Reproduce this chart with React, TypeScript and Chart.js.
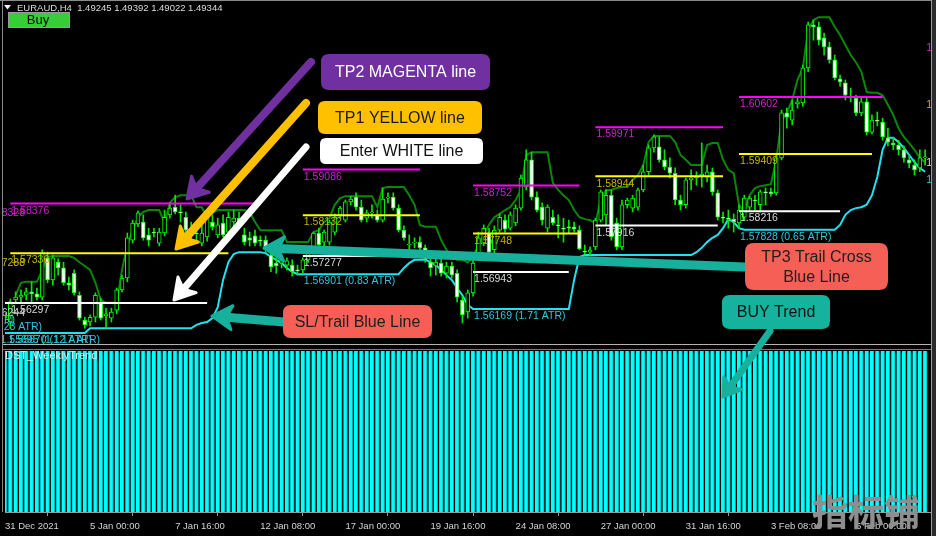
import React, { useEffect, useRef } from "react";
import { Chart, registerables } from "chart.js";

Chart.register(...registerables);

// ---------------- data ----------------
const xTickLabels = ["31 Dec 2021", "5 Jan 00:00", "7 Jan 16:00", "12 Jan 08:00", "17 Jan 00:00", "19 Jan 16:00", "24 Jan 08:00", "27 Jan 00:00", "31 Jan 16:00", "3 Feb 08:00", "6 Feb 00:00"];
const barsPerTick = 16;

const opens = [
  1.5598, 1.5590, 1.5636, 1.5642, 1.5646, 1.5653, 1.5649, 1.5642, 1.5724, 1.5678,
  1.5715, 1.5703, 1.5672, 1.5692, 1.5646, 1.5594, 1.5590, 1.5600, 1.5630, 1.5603,
  1.5598, 1.5615, 1.5657, 1.5682, 1.5761, 1.5795, 1.5799, 1.5772, 1.5778, 1.5755,
  1.5776, 1.5814, 1.5830, 1.5820, 1.5809, 1.5780, 1.5776, 1.5755, 1.5768, 1.5799,
  1.5772, 1.5797, 1.5778, 1.5799, 1.5807, 1.5772, 1.5766, 1.5770, 1.5761, 1.5761,
  1.5730, 1.5713, 1.5713, 1.5709, 1.5709, 1.5699, 1.5699, 1.5720, 1.5741, 1.5776,
  1.5757, 1.5757, 1.5778, 1.5814, 1.5803, 1.5841, 1.5851, 1.5830, 1.5807, 1.5818,
  1.5814, 1.5803, 1.5849, 1.5851, 1.5828, 1.5782, 1.5751, 1.5755, 1.5757, 1.5745,
  1.5715, 1.5707, 1.5713, 1.5692, 1.5707, 1.5692, 1.5636, 1.5611, 1.5651, 1.5734,
  1.5755, 1.5776, 1.5741, 1.5782, 1.5803, 1.5786, 1.5797, 1.5828, 1.5872, 1.5929,
  1.5851, 1.5830, 1.5786, 1.5809, 1.5793, 1.5786, 1.5789, 1.5789, 1.5782, 1.5738,
  1.5736, 1.5747, 1.5803, 1.5814, 1.5855, 1.5797, 1.5747, 1.5835, 1.5828, 1.5830,
  1.5866, 1.5904, 1.5954, 1.5956, 1.5929, 1.5914, 1.5901, 1.5845, 1.5835, 1.5887,
  1.5891, 1.5895, 1.5893, 1.5904, 1.5860, 1.5809, 1.5807, 1.5805, 1.5797, 1.5809,
  1.5830, 1.5845, 1.5835, 1.5862, 1.5862, 1.5860, 1.5933, 1.6027, 1.6012, 1.6046,
  1.6048, 1.6121, 1.6211, 1.6207, 1.6184, 1.6165, 1.6138, 1.6098, 1.6090, 1.6062,
  1.6058, 1.6027, 1.6050, 1.5987, 1.6012, 1.6008, 1.5975, 1.5964, 1.5960, 1.5950,
  1.5929, 1.5918, 1.5912, 1.5933,
];
const highs = [
  1.5609, 1.5638, 1.5653, 1.5657, 1.5661, 1.5674, 1.5661, 1.5741, 1.5736, 1.5730,
  1.5722, 1.5715, 1.5684, 1.5699, 1.5653, 1.5600, 1.5605, 1.5651, 1.5640, 1.5619,
  1.5619, 1.5661, 1.5688, 1.5776, 1.5803, 1.5822, 1.5814, 1.5786, 1.5786, 1.5786,
  1.5824, 1.5839, 1.5855, 1.5835, 1.5820, 1.5799, 1.5786, 1.5793, 1.5824, 1.5814,
  1.5807, 1.5814, 1.5820, 1.5824, 1.5820, 1.5786, 1.5778, 1.5782, 1.5770, 1.5770,
  1.5741, 1.5724, 1.5724, 1.5724, 1.5720, 1.5709, 1.5724, 1.5745, 1.5778, 1.5786,
  1.5782, 1.5803, 1.5816, 1.5832, 1.5845, 1.5853, 1.5860, 1.5845, 1.5824, 1.5835,
  1.5824, 1.5870, 1.5860, 1.5860, 1.5835, 1.5791, 1.5772, 1.5766, 1.5768, 1.5751,
  1.5724, 1.5724, 1.5724, 1.5715, 1.5715, 1.5699, 1.5644, 1.5657, 1.5724, 1.5778,
  1.5793, 1.5786, 1.5791, 1.5816, 1.5814, 1.5820, 1.5835, 1.5897, 1.5950, 1.5945,
  1.5862, 1.5839, 1.5835, 1.5824, 1.5814, 1.5807, 1.5803, 1.5799, 1.5791, 1.5751,
  1.5747, 1.5807, 1.5866, 1.5866, 1.5866, 1.5807, 1.5845, 1.5849, 1.5855, 1.5870,
  1.5918, 1.5960, 1.5981, 1.5977, 1.5950, 1.5933, 1.5912, 1.5855, 1.5891, 1.5908,
  1.5904, 1.5964, 1.5918, 1.5912, 1.5866, 1.5820, 1.5824, 1.5816, 1.5835, 1.5855,
  1.5853, 1.5855, 1.5866, 1.5870, 1.5870, 1.5939, 1.6033, 1.6037, 1.6054, 1.6058,
  1.6127, 1.6217, 1.6221, 1.6217, 1.6194, 1.6175, 1.6148, 1.6106, 1.6096, 1.6079,
  1.6064, 1.6060, 1.6058, 1.6023, 1.6029, 1.6016, 1.5995, 1.5975, 1.5970, 1.5958,
  1.5939, 1.5929, 1.5950, 1.5950,
];
const lows = [
  1.5590, 1.5577, 1.5628, 1.5632, 1.5636, 1.5628, 1.5636, 1.5636, 1.5672, 1.5667,
  1.5688, 1.5667, 1.5657, 1.5646, 1.5594, 1.5577, 1.5582, 1.5590, 1.5594, 1.5577,
  1.5590, 1.5607, 1.5653, 1.5674, 1.5755, 1.5789, 1.5761, 1.5749, 1.5768, 1.5749,
  1.5770, 1.5807, 1.5816, 1.5799, 1.5778, 1.5761, 1.5761, 1.5749, 1.5759, 1.5782,
  1.5766, 1.5768, 1.5770, 1.5786, 1.5786, 1.5751, 1.5749, 1.5749, 1.5749, 1.5736,
  1.5695, 1.5692, 1.5703, 1.5699, 1.5686, 1.5688, 1.5692, 1.5715, 1.5732, 1.5745,
  1.5749, 1.5751, 1.5772, 1.5807, 1.5799, 1.5835, 1.5824, 1.5799, 1.5799, 1.5807,
  1.5799, 1.5799, 1.5839, 1.5824, 1.5778, 1.5761, 1.5741, 1.5745, 1.5741, 1.5715,
  1.5686, 1.5688, 1.5686, 1.5682, 1.5682, 1.5632, 1.5588, 1.5598, 1.5644, 1.5728,
  1.5749, 1.5732, 1.5734, 1.5778, 1.5778, 1.5782, 1.5791, 1.5824, 1.5866, 1.5845,
  1.5820, 1.5793, 1.5778, 1.5793, 1.5766, 1.5757, 1.5776, 1.5778, 1.5741, 1.5732,
  1.5730, 1.5741, 1.5799, 1.5793, 1.5761, 1.5741, 1.5741, 1.5828, 1.5820, 1.5824,
  1.5862, 1.5897, 1.5945, 1.5924, 1.5908, 1.5891, 1.5835, 1.5824, 1.5828, 1.5866,
  1.5876, 1.5872, 1.5883, 1.5855, 1.5803, 1.5797, 1.5786, 1.5778, 1.5786, 1.5803,
  1.5824, 1.5824, 1.5820, 1.5835, 1.5853, 1.5855, 1.5929, 1.5995, 1.6002, 1.6037,
  1.6041, 1.6113, 1.6179, 1.6169, 1.6148, 1.6131, 1.6096, 1.6083, 1.6054, 1.6050,
  1.6021, 1.6021, 1.5981, 1.5983, 1.6000, 1.5970, 1.5958, 1.5950, 1.5939, 1.5924,
  1.5912, 1.5897, 1.5904, 1.5918,
];
const closes = [
  1.5603, 1.5632, 1.5642, 1.5646, 1.5653, 1.5649, 1.5642, 1.5734, 1.5678, 1.5724,
  1.5703, 1.5672, 1.5667, 1.5651, 1.5598, 1.5584, 1.5600, 1.5646, 1.5598, 1.5607,
  1.5611, 1.5657, 1.5682, 1.5766, 1.5797, 1.5818, 1.5766, 1.5761, 1.5776, 1.5778,
  1.5809, 1.5828, 1.5820, 1.5818, 1.5782, 1.5772, 1.5774, 1.5776, 1.5809, 1.5789,
  1.5793, 1.5772, 1.5809, 1.5807, 1.5801, 1.5757, 1.5761, 1.5755, 1.5759, 1.5741,
  1.5705, 1.5707, 1.5720, 1.5718, 1.5695, 1.5697, 1.5720, 1.5741, 1.5776, 1.5751,
  1.5778, 1.5799, 1.5809, 1.5828, 1.5841, 1.5847, 1.5830, 1.5803, 1.5818, 1.5820,
  1.5803, 1.5847, 1.5851, 1.5828, 1.5782, 1.5766, 1.5753, 1.5757, 1.5745, 1.5720,
  1.5703, 1.5715, 1.5692, 1.5707, 1.5688, 1.5642, 1.5605, 1.5651, 1.5713, 1.5766,
  1.5786, 1.5736, 1.5782, 1.5809, 1.5784, 1.5814, 1.5828, 1.5891, 1.5929, 1.5851,
  1.5824, 1.5803, 1.5830, 1.5797, 1.5791, 1.5784, 1.5786, 1.5784, 1.5743, 1.5736,
  1.5741, 1.5803, 1.5862, 1.5855, 1.5768, 1.5747, 1.5835, 1.5845, 1.5849, 1.5866,
  1.5904, 1.5954, 1.5977, 1.5929, 1.5914, 1.5901, 1.5845, 1.5835, 1.5887, 1.5891,
  1.5895, 1.5899, 1.5904, 1.5862, 1.5809, 1.5807, 1.5805, 1.5799, 1.5824, 1.5849,
  1.5849, 1.5843, 1.5862, 1.5860, 1.5858, 1.5933, 1.6027, 1.6018, 1.6033, 1.6050,
  1.6121, 1.6211, 1.6207, 1.6179, 1.6165, 1.6138, 1.6100, 1.6092, 1.6064, 1.6060,
  1.6027, 1.6050, 1.5987, 1.6012, 1.6010, 1.5977, 1.5966, 1.5960, 1.5950, 1.5933,
  1.5922, 1.5908, 1.5933, 1.5935,
];
// upper (green) channel line
const upperBand = [
  null, null, 1.5646, 1.5672, 1.5674, 1.5674, 1.5674, 1.5699, 1.5726, 1.5728,
  1.5728, 1.5728, 1.5728, 1.5724, 1.5715, 1.5707, 1.5699, 1.5672, 1.5636, 1.5630,
  1.5630, 1.5630, 1.5699, 1.5751, 1.5782, 1.5809, 1.5820, 1.5824, 1.5824, 1.5824,
  1.5797, 1.5839, 1.5851, 1.5855, 1.5855, 1.5855, 1.5830, 1.5830, 1.5809, 1.5818,
  1.5824, 1.5824, 1.5824, 1.5824, 1.5824, 1.5824, 1.5820, 1.5799, 1.5782, 1.5782,
  1.5782, 1.5782, 1.5782, 1.5757, 1.5757, 1.5757, 1.5757, 1.5757, 1.5778, 1.5782,
  1.5799, 1.5807, 1.5835, 1.5849, 1.5853, 1.5853, 1.5853, 1.5853, 1.5853, 1.5853,
  1.5830, 1.5870, 1.5872, 1.5872, 1.5872, 1.5872, 1.5855, 1.5835, 1.5793, 1.5789,
  1.5789, 1.5789, 1.5761, 1.5741, 1.5726, 1.5720, 1.5720, 1.5715, 1.5726, 1.5751,
  1.5772, 1.5793, 1.5809, 1.5816, 1.5824, 1.5830, 1.5845, 1.5866, 1.5939, 1.5945,
  1.5945, 1.5945, 1.5945, 1.5881, 1.5866, 1.5855, 1.5845, 1.5824, 1.5809, 1.5805,
  1.5803, 1.5797, 1.5845, 1.5866, 1.5866, 1.5870, 1.5872, 1.5872, 1.5887, 1.5897,
  1.5918, 1.5966, 1.5979, 1.5979, 1.5979, 1.5979, 1.5966, 1.5939, 1.5929, 1.5918,
  1.5918, 1.5918, 1.5960, 1.5964, 1.5964, 1.5929, 1.5908, 1.5901, 1.5835, 1.5820,
  1.5855, 1.5870, 1.5874, 1.5876, 1.5878, 1.5929, 1.6012, 1.6027, 1.6054, 1.6096,
  1.6121, 1.6200, 1.6221, 1.6227, 1.6227, 1.6227, 1.6207, 1.6190, 1.6169, 1.6148,
  1.6133, 1.6113, 1.6071, 1.6069, 1.6069, 1.6064, 1.6044, 1.6023, 1.5995, 1.5977,
  1.5964, 1.5950, 1.5933, 1.5924,
];
// SL / trailing (cyan) line
const trailStop = [
  1.5567, 1.5567, 1.5567, 1.5567, 1.5567, 1.5567, 1.5567, 1.5567, 1.5567, 1.5567,
  1.5567, 1.5567, 1.5567, 1.5567, 1.5567, 1.5567, 1.5577, 1.5577, 1.5577, 1.5577,
  1.5577, 1.5577, 1.5577, 1.5577, 1.5577, 1.5577, 1.5577, 1.5577, 1.5577, 1.5577,
  1.5577, 1.5577, 1.5577, 1.5577, 1.5577, 1.5577, 1.5584, 1.5588, 1.5590, 1.5598,
  1.5621, 1.5678, 1.5715, 1.5732, 1.5736, 1.5736, 1.5736, 1.5736, 1.5736, 1.5734,
  1.5726, 1.5720, 1.5713, 1.5703, 1.5695, 1.5690, 1.5690, 1.5690, 1.5690, 1.5690,
  1.5690, 1.5690, 1.5690, 1.5690, 1.5690, 1.5690, 1.5690, 1.5690, 1.5690, 1.5690,
  1.5690, 1.5690, 1.5690, 1.5690, 1.5690, 1.5703, 1.5713, 1.5720, 1.5720, 1.5720,
  1.5715, 1.5709, 1.5699, 1.5688, 1.5678, 1.5661, 1.5646, 1.5626, 1.5617, 1.5617,
  1.5617, 1.5617, 1.5617, 1.5617, 1.5617, 1.5617, 1.5617, 1.5617, 1.5617, 1.5617,
  1.5617, 1.5617, 1.5617, 1.5617, 1.5617, 1.5617, 1.5617, 1.5678, 1.5726, 1.5730,
  1.5730, 1.5730, 1.5730, 1.5730, 1.5730, 1.5730, 1.5730, 1.5730, 1.5730, 1.5730,
  1.5730, 1.5730, 1.5730, 1.5730, 1.5730, 1.5730, 1.5730, 1.5730, 1.5730, 1.5730,
  1.5736, 1.5745, 1.5757, 1.5766, 1.5772, 1.5786, 1.5805, 1.5799, 1.5786, 1.5783,
  1.5783, 1.5783, 1.5783, 1.5783, 1.5783, 1.5783, 1.5783, 1.5783, 1.5783, 1.5783,
  1.5783, 1.5783, 1.5783, 1.5783, 1.5783, 1.5783, 1.5783, 1.5793, 1.5814, 1.5824,
  1.5828, 1.5830, 1.5835, 1.5855, 1.5893, 1.5950, 1.5975, 1.5975, 1.5966, 1.5954,
  1.5939, 1.5924, 1.5912, 1.5904,
];
// DST_WeeklyTrend histogram (1 = buy trend)
const weeklyTrend = [
  1, 1, 1, 1, 1, 1, 1, 1, 1, 1, 1, 1, 1, 1, 1, 1, 1, 1, 1, 1, 1, 1, 1, 1, 1, 1, 1, 1, 1,
  1, 1, 1, 1, 1, 1, 1, 1, 1, 1, 1, 1, 1, 1, 1, 1, 1, 1, 1, 1, 1, 1, 1, 1, 1, 1, 1, 1, 1,
  1, 1, 1, 1, 1, 1, 1, 1, 1, 1, 1, 1, 1, 1, 1, 1, 1, 1, 1, 1, 1, 1, 1, 1, 1, 1, 1, 1, 1,
  1, 1, 1, 1, 1, 1, 1, 1, 1, 1, 1, 1, 1, 1, 1, 1, 1, 1, 1, 1, 1, 1, 1, 1, 1, 1, 1, 1, 1,
  1, 1, 1, 1, 1, 1, 1, 1, 1, 1, 1, 1, 1, 1, 1, 1, 1, 1, 1, 1, 1, 1, 1, 1, 1, 1, 1, 1, 1,
  1, 1, 1, 1, 1, 1, 1, 1, 1, 1, 1, 1, 1, 1, 1, 1, 1, 1, 1, 1, 1, 1, 1, 1, 1, 1, 1, 1, 1,
];

// signal levels (one entry per signal)
const signalStartBar = [1, 56, 88, 111, 138];
const entryStartBar = [0, 56, 88, 111, 138];
const tp2Levels = [1.58376, 1.59086, 1.58752, 1.59971, 1.60602];
const tp2EndBar = [47, 78, 108, 135, 165];
const tp1Levels = [1.57336, 1.58132, 1.57748, 1.58944, 1.59409];
const tp1EndBar = [42, 78, 108, 135, 163];
const entryLevels = [1.56297, 1.57277, 1.56943, 1.57916, 1.58216];
const entryEndBar = [38, 78, 106, 134, 157];
const stopLabelLevels = [1.5567, 1.56901, 1.56169, 1.5730, 1.57828];
const stopLabelTexts = ["", "1.56901 (0.83 ATR)", "1.56169 (1.71 ATR)", "", "1.57828 (0.65 ATR)"];

// partially visible labels of earlier / later signals
const prevLevelTexts = ["1.58328", "1.57288", "1.56244"];
const prevLevelValues = [1.58328, 1.57288, 1.56244];
const prevStopTexts = ["1.56090 (1.18 ATR)", "1.55940 (1.23 ATR)", "1.55695 (1.12 ATR)", "1.55670 (1.17 ATR)"];
const prevStopValues = [1.5609, 1.5594, 1.5567, 1.5567];
const nextLevelTexts = ["1.61770", "1.60580", "1.59370", "1.59010"];
const nextLevelValues = [1.6177, 1.6058, 1.5937, 1.5901];

// ---------------- styling ----------------
const C_MAG = "#ff00ff";
const C_YEL = "#ffff00";
const C_WHT = "#ffffff";
const C_MAG_T = "#cc22cc";
const C_YEL_T = "#c8b400";
const C_WHT_T = "#d8d8d8";
const C_CYN_T = "#2ec8dc";
const LBL_FONT = '10.5px "Liberation Sans", Arial, sans-serif';

function rr(ctx: CanvasRenderingContext2D, x: number, y: number, w: number, h: number, r: number) {
  ctx.beginPath();
  ctx.moveTo(x + r, y);
  ctx.lineTo(x + w - r, y);
  ctx.quadraticCurveTo(x + w, y, x + w, y + r);
  ctx.lineTo(x + w, y + h - r);
  ctx.quadraticCurveTo(x + w, y + h, x + w - r, y + h);
  ctx.lineTo(x + r, y + h);
  ctx.quadraticCurveTo(x, y + h, x, y + h - r);
  ctx.lineTo(x, y + r);
  ctx.quadraticCurveTo(x, y, x + r, y);
  ctx.closePath();
}

function arrow(ctx: CanvasRenderingContext2D, x1: number, y1: number, x2: number, y2: number, color: string, w: number, hl: number, hw: number) {
  const a = Math.atan2(y2 - y1, x2 - x1);
  const c = Math.cos(a), s = Math.sin(a);
  const bx = x2 - hl * c, by = y2 - hl * s;
  const nx = x2 - hl * 0.72 * c, ny = y2 - hl * 0.72 * s;
  ctx.strokeStyle = color;
  ctx.fillStyle = color;
  ctx.lineCap = "round";
  ctx.lineJoin = "round";
  ctx.lineWidth = w;
  ctx.beginPath();
  ctx.moveTo(x1, y1);
  ctx.lineTo(nx, ny);
  ctx.stroke();
  ctx.lineWidth = 3;
  ctx.beginPath();
  ctx.moveTo(x2, y2);
  ctx.lineTo(bx - hw * s, by + hw * c);
  ctx.lineTo(nx, ny);
  ctx.lineTo(bx + hw * s, by - hw * c);
  ctx.closePath();
  ctx.fill();
  ctx.stroke();
}

function box(ctx: CanvasRenderingContext2D, x: number, y: number, w: number, h: number, r: number, fill: string, lines: string[], color: string) {
  ctx.fillStyle = fill;
  rr(ctx, x, y, w, h, r);
  ctx.fill();
  ctx.fillStyle = color;
  ctx.font = '16px "Liberation Sans", Arial, sans-serif';
  ctx.textAlign = "center";
  ctx.textBaseline = "middle";
  const lh = 20;
  const cy = y + h / 2 - ((lines.length - 1) * lh) / 2 + 1;
  lines.forEach((t, k) => ctx.fillText(t, x + w / 2, cy + k * lh));
}

const overlayPlugin = {
  id: "overlay",
  beforeDraw(chart: any) {
    const ctx = chart.ctx as CanvasRenderingContext2D;
    ctx.save();
    ctx.fillStyle = "#000";
    ctx.fillRect(0, 0, chart.width, chart.height);
    ctx.restore();
  },
  afterDraw(chart: any) {
    const ctx = chart.ctx as CanvasRenderingContext2D;
    const xs = chart.scales.x;
    const ys = chart.scales.y;
    const px = (v: number) => xs.getPixelForValue(v);
    const py = (v: number) => ys.getPixelForValue(v);

    // ---- level labels (main pane) ----
    ctx.save();
    ctx.beginPath();
    ctx.rect(2, 0, 929, 344);
    ctx.clip();
    ctx.font = LBL_FONT;
    ctx.textBaseline = "top";
    ctx.textAlign = "left";
    const lbl = (t: string, x: number, v: number, col: string) => {
      ctx.fillStyle = col;
      ctx.fillText(t, x, py(v) + 2);
    };
    tp2Levels.forEach((v, k) => lbl(v.toFixed(5), px(signalStartBar[k]) + 1, v, C_MAG_T));
    tp1Levels.forEach((v, k) => lbl(v.toFixed(5), px(signalStartBar[k]) + 1, v, C_YEL_T));
    entryLevels.forEach((v, k) => lbl(v.toFixed(5), px(signalStartBar[k]) + 1, v, C_WHT_T));
    stopLabelLevels.forEach((v, k) => {
      if (stopLabelTexts[k]) lbl(stopLabelTexts[k], px(signalStartBar[k]) + 1, v, C_CYN_T);
    });
    ctx.textAlign = "right";
    const prevCols = [C_MAG_T, C_YEL_T, C_WHT_T];
    prevLevelValues.forEach((v, k) => lbl(prevLevelTexts[k], 25, v, prevCols[k]));
    const prevStopRight = [15, 42, 92, 100];
    prevStopValues.forEach((v, k) => lbl(prevStopTexts[k], prevStopRight[k], v, C_CYN_T));
    ctx.textAlign = "left";
    const nextCols = [C_MAG_T, C_YEL_T, C_WHT_T, C_CYN_T];
    nextLevelValues.forEach((v, k) => lbl(nextLevelTexts[k], px(173) + 1, v, nextCols[k]));
    ctx.restore();

    ctx.save();
    // ---- pane separator ----
    ctx.fillStyle = "#000";
    ctx.fillRect(2, 344, 929, 6);
    ctx.fillStyle = "#b4b4b4";
    ctx.fillRect(2, 344, 929, 1);
    ctx.fillStyle = "#7a7a7a";
    ctx.fillRect(2, 349, 929, 1);
    // frame
    ctx.fillStyle = "#8a8a8a";
    ctx.fillRect(0, 0, 936, 1);
    ctx.fillRect(2, 0, 1, 512);
    ctx.fillStyle = "#9a9a9a";
    ctx.fillRect(931, 0, 1, 536);
    ctx.fillStyle = "#2c2c2c";
    ctx.fillRect(932, 0, 4, 536);

    // indicator name
    ctx.font = '11px "Liberation Sans", Arial, sans-serif';
    ctx.textAlign = "left";
    ctx.textBaseline = "middle";
    ctx.fillStyle = "#e6e6e6";
    ctx.fillText("DST_WeeklyTrend", 5, 356);

    // title
    ctx.fillStyle = "#f0f0f0";
    ctx.beginPath();
    ctx.moveTo(4, 5);
    ctx.lineTo(11, 5);
    ctx.lineTo(7.5, 9.5);
    ctx.closePath();
    ctx.fill();
    ctx.font = '9.5px "Liberation Sans", Arial, sans-serif';
    ctx.fillStyle = "#dcdcdc";
    ctx.fillText("EURAUD,H4  1.49245 1.49392 1.49022 1.49344", 17, 8);

    // Buy button
    ctx.fillStyle = "#38cc38";
    ctx.fillRect(9, 13, 60, 14);
    ctx.strokeStyle = "#9a9a9a";
    ctx.lineWidth = 1;
    ctx.strokeRect(8.5, 12.5, 61, 15);
    ctx.fillStyle = "#000";
    ctx.font = '13px "Liberation Sans", Arial, sans-serif';
    ctx.textAlign = "center";
    ctx.fillText("Buy", 38, 20.5);

    // ---- annotation arrows ----
    const TEAL = "#17b09c";
    arrow(ctx, 311, 62, 187, 199, "#7030a0", 8, 20, 12);
    arrow(ctx, 306, 103, 176, 249, "#ffc000", 8, 20, 12);
    arrow(ctx, 306, 147, 174, 300, "#ffffff", 7, 20, 12);
    arrow(ctx, 284, 322, 212, 316, TEAL, 9, 20, 12);
    arrow(ctx, 744, 267, 264, 248, TEAL, 9, 20, 12);
    arrow(ctx, 770, 331, 723, 397, TEAL, 7, 17, 11);

    // ---- annotation boxes ----
    box(ctx, 321, 54, 169, 36, 8, "#7030a0", ["TP2 MAGENTA line"], "#ffffff");
    box(ctx, 318, 101, 164, 33, 7, "#ffc000", ["TP1 YELLOW line"], "#1a1a1a");
    box(ctx, 320, 138, 163, 26, 6, "#ffffff", ["Enter WHITE line"], "#111111");
    box(ctx, 283, 305, 149, 33, 8, "#f65f56", ["SL/Trail Blue Line"], "#1e1e1e");
    box(ctx, 745, 243, 143, 47, 9, "#f65f56", ["TP3 Trail Cross", "Blue Line"], "#1e1e1e");
    box(ctx, 722, 295, 108, 34, 8, "#15b39e", ["BUY Trend"], "#111111");

    // watermark
    ctx.font = 'bold 36px "Noto Sans CJK SC", sans-serif';
    ctx.textAlign = "center";
    ctx.textBaseline = "middle";
    ctx.fillStyle = "#8e8e8e";
    ctx.fillText("指标铺", 866, 512);
    ctx.restore();
  },
};

export default function App() {
  const ref = useRef<HTMLCanvasElement>(null);
  useEffect(() => {
    document.body.style.margin = "0";
    document.body.style.background = "#000";
    const canvas = ref.current;
    if (!canvas) return;
    const idx = opens.map((_, i) => i);
    const wickData = idx.map((i) => ({ x: i, y: [lows[i], highs[i]] }));
    const bodyData = idx.map((i) => ({ x: i, y: [opens[i], closes[i]] }));
    const bodyFill = idx.map((i) => (closes[i] >= opens[i] ? "#000000" : "#ffffff"));

    const seg = (levels: number[], starts: number[], ends: number[], color: string) =>
      levels.map((v, k) => ({
        type: "line" as const,
        data: [{ x: starts[k], y: v }, { x: ends[k], y: v }],
        borderColor: color,
        borderWidth: 2,
        pointRadius: 0,
        yAxisID: "y",
        order: 0,
      }));

    const chart = new Chart(canvas, {
      type: "bar",
      data: {
        datasets: [
          {
            type: "bar",
            data: idx.map((i) => ({ x: i, y: weeklyTrend[i] })),
            yAxisID: "y2",
            backgroundColor: "#00ffff",
            borderColor: "#00a8b0",
            borderWidth: { left: 0, right: 1, top: 0, bottom: 0 },
            barThickness: 4,
            grouped: false,
            order: 6,
          } as any,
          {
            type: "line",
            data: idx.map((i) => ({ x: i, y: upperBand[i] })),
            borderColor: "#0b860b",
            borderWidth: 2,
            pointRadius: 0,
            tension: 0,
            spanGaps: false,
            yAxisID: "y",
            order: 5,
          } as any,
          {
            type: "line",
            data: idx.map((i) => ({ x: i, y: trailStop[i] })),
            borderColor: "#22e2f0",
            borderWidth: 2,
            pointRadius: 0,
            tension: 0,
            yAxisID: "y",
            order: 4,
          } as any,
          {
            type: "bar",
            data: wickData,
            yAxisID: "y",
            backgroundColor: "#00e600",
            barThickness: 1,
            grouped: false,
            order: 3,
          } as any,
          {
            type: "bar",
            data: bodyData,
            yAxisID: "y",
            backgroundColor: bodyFill,
            borderColor: "#00ff00",
            borderWidth: 1,
            borderSkipped: false,
            barThickness: 4,
            minBarLength: 1,
            grouped: false,
            order: 2,
          } as any,
          ...seg(tp2Levels, signalStartBar, tp2EndBar, C_MAG),
          ...seg(tp1Levels, signalStartBar, tp1EndBar, C_YEL),
          ...seg(entryLevels, entryStartBar, entryEndBar, C_WHT),
        ] as any,
      },
      options: {
        responsive: false,
        animation: false,
        devicePixelRatio: 1,
        events: [],
        layout: { padding: { left: 2, right: 5, top: 0, bottom: 0 } },
        plugins: { legend: { display: false }, tooltip: { enabled: false } },
        scales: {
          x: {
            type: "linear",
            min: 0,
            max: 174.1,
            offset: false,
            grid: { display: true, drawOnChartArea: false, drawTicks: true, tickLength: 4, color: "#9a9a9a", tickColor: "#9a9a9a" },
            border: { display: true, color: "#9a9a9a" },
            ticks: {
              stepSize: barsPerTick,
              includeBounds: false,
              autoSkip: false,
              maxRotation: 0,
              align: "start",
              padding: 5,
              color: "#d4d4d4",
              font: { family: '"Liberation Sans", Arial, sans-serif', size: 9.5 },
              callback: (v: any) => xTickLabels[Math.round(Number(v) / barsPerTick)] ?? "",
            },
            afterFit: (s: any) => {
              s.height = 24;
            },
          },
          y: { type: "linear", display: false, beginAtZero: false, min: 1.6263 - 512 * 0.000209, max: 1.6263 },
          y2: { type: "linear", display: false, beginAtZero: true, min: 0, max: 3.18 },
        } as any,
      },
      plugins: [overlayPlugin],
    });
    return () => chart.destroy();
  }, []);
  return <canvas ref={ref} width={936} height={536} style={{ display: "block" }} />;
}
